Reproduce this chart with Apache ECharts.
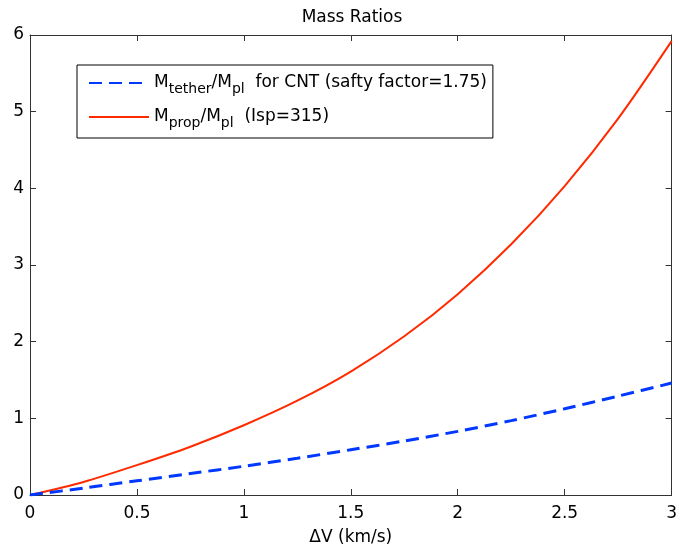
<!DOCTYPE html>
<html>
<head>
<meta charset="utf-8">
<script src="https://cdn.jsdelivr.net/npm/echarts@6/dist/echarts.min.js"></script>
<style>
  html, body { margin: 0; padding: 0; background: #fff; }
  #chart { width: 680px; height: 551px; }
</style>
</head>
<body>
<div id="chart"></div>
<script>
// Delta-V in km/s
const deltaV = [0, 0.25, 0.5, 0.75, 1.0, 1.25, 1.5, 1.75, 2.0, 2.25, 2.5, 2.75, 3.0];
// Tether mass over payload mass, CNT with safety factor 1.75
const tetherRatio = [0, 0.09, 0.185, 0.28, 0.375, 0.48, 0.59, 0.705, 0.83, 0.97, 1.125, 1.29, 1.46];
// Propellant mass over payload mass, Isp = 315 s
const propRatio = [0, 0.17, 0.39, 0.63, 0.91, 1.23, 1.61, 2.07, 2.62, 3.27, 4.03, 4.91, 5.92];

const xTicks = { min: 0, max: 3, interval: 0.5 };
const yTicks = { min: 0, max: 6, interval: 1 };

const FONT = 'DejaVu Sans';
const frameColor = '#333';

const chart = echarts.init(document.getElementById('chart'), null, { renderer: 'canvas' });

const pairs = (xs, ys) => xs.map((x, i) => [x, ys[i]]);

const subStyle = { fontFamily: FONT, fontSize: 14, color: '#000', lineHeight: 22, padding: [12, 0, 0, 0] };
const mainStyle = { fontFamily: FONT, fontSize: 17, color: '#000', lineHeight: 22 };

function boxAxis(base, extra) {
  return Object.assign({
    type: 'value',
    axisLine: { show: true, onZero: false, lineStyle: { color: frameColor, width: 1 } },
    axisTick: { show: true, inside: true, length: 6, lineStyle: { color: frameColor, width: 1 } },
    splitLine: { show: false }
  }, base, extra);
}

chart.setOption({
  backgroundColor: '#fff',
  animation: false,
  title: {
    text: 'Mass Ratios',
    left: 352,
    top: 9,
    padding: 0,
    textAlign: 'center',
    textStyle: { fontFamily: FONT, fontSize: 17, fontWeight: 'normal', color: '#000' }
  },
  grid: { left: 30, right: 3, top: 35, bottom: 52, containLabel: false, show: false },
  legend: {
    orient: 'vertical',
    left: 77,
    top: 65,
    padding: [5, 6, 8, 11],
    itemGap: 8,
    itemWidth: 60,
    itemHeight: 14,
    backgroundColor: '#fff',
    borderColor: '#000',
    borderWidth: 1,
    borderRadius: 0,
    itemStyle: { opacity: 0, borderWidth: 0 },
    data: ['tether', 'prop'],
    formatter: function (name) {
      if (name === 'tether') {
        return '{m|M}{s|tether}{m|/M}{s|pl}{m|  for CNT (safty factor=1.75)}';
      }
      return '{m|M}{s|prop}{m|/M}{s|pl}{m|  (Isp=315)}';
    },
    textStyle: {
      fontFamily: FONT,
      fontSize: 17,
      color: '#000',
      rich: { m: mainStyle, s: subStyle }
    }
  },
  xAxis: [
    boxAxis(xTicks, {
      position: 'bottom',
      name: 'ΔV (km/s)',
      nameLocation: 'middle',
      nameGap: 34,
      nameTextStyle: { fontFamily: FONT, fontSize: 17, color: '#000' },
      axisLabel: { fontFamily: FONT, fontSize: 17, color: '#000', margin: 10, showMinLabel: true, showMaxLabel: true }
    }),
    boxAxis(xTicks, { position: 'top', axisLabel: { show: false } })
  ],
  yAxis: [
    boxAxis(yTicks, {
      position: 'left',
      axisLabel: { fontFamily: FONT, fontSize: 17, color: '#000', margin: 6, showMinLabel: true, showMaxLabel: true }
    }),
    boxAxis(yTicks, { position: 'right', axisLabel: { show: false } })
  ],
  series: [
    {
      name: 'tether',
      type: 'line',
      xAxisIndex: 0,
      yAxisIndex: 0,
      data: pairs(deltaV, tetherRatio),
      smooth: 0.3,
      symbol: 'none',
      lineStyle: { color: '#0038ff', width: 3, type: [13, 7] },
      itemStyle: { color: '#0038ff' },
      z: 3
    },
    {
      name: 'prop',
      type: 'line',
      xAxisIndex: 0,
      yAxisIndex: 0,
      data: pairs(deltaV, propRatio),
      smooth: 0.3,
      symbol: 'none',
      lineStyle: { color: '#ff2a00', width: 2, type: 'solid' },
      itemStyle: { color: '#ff2a00' },
      z: 2
    }
  ]
});
</script>
</body>
</html>
